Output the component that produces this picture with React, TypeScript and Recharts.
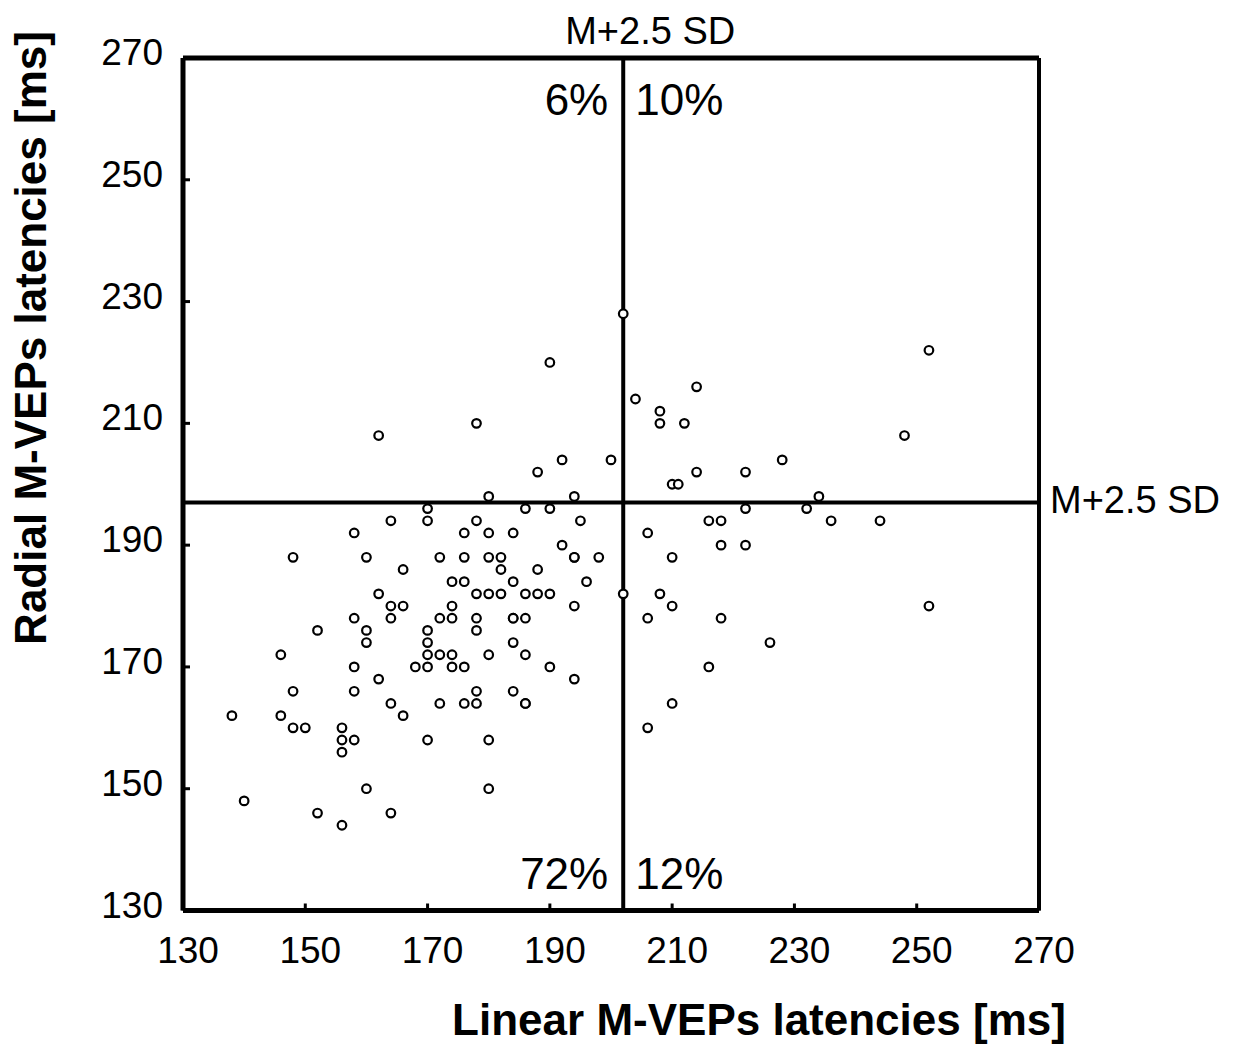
import React from "react";
import { ScatterChart, Scatter, XAxis, YAxis, ReferenceLine } from "recharts";

// Linear vs radial M-VEP latencies (ms), one entry per eye.
const LINEAR = [
  // upper left
  162, 178, 190, 192, 188, 200, 180, 194,
  // upper right
  202, 204, 208, 208, 212, 214, 214, 210, 211, 222, 228, 234, 248, 252,
  // lower right
  206, 216, 218, 222, 232, 236, 244, 218, 222, 210, 202, 208, 210, 252, 206, 218, 226, 216, 210, 206,
  // lower left
  164, 158, 148, 160, 166, 162, 164, 166, 158, 164, 152, 160, 160, 146, 158, 162, 148, 158, 164, 138,
  146, 166, 148, 150, 156, 156, 158, 156, 160, 140, 152, 164, 156,
  170, 170, 186, 190, 178, 195, 176, 180, 184, 192, 172, 176, 180, 182, 194, 194, 198, 182, 188, 174,
  176, 184, 196, 178, 180, 182, 186, 188, 190, 174, 194, 172, 174, 178, 184, 184, 186, 170, 178, 170,
  184, 170, 172, 174, 180, 186, 168, 170, 174, 176, 190, 194, 178, 184, 172, 176, 178, 186, 186, 170,
  180, 180,
];
const RADIAL = [
  208, 210, 220, 204, 202, 204, 198, 198,
  228, 214, 212, 210, 210, 216, 202, 200, 200, 202, 204, 198, 208, 222,
  192, 194, 194, 196, 196, 194, 194, 190, 190, 188, 182, 182, 180, 180, 178, 178, 174, 170, 164, 160,
  194, 192, 188, 188, 186, 182, 180, 180, 178, 178, 176, 176, 174, 172, 170, 168, 166, 166, 164, 162,
  162, 162, 160, 160, 160, 158, 158, 156, 150, 148, 146, 146, 144,
  196, 194, 196, 196, 194, 194, 192, 192, 192, 190, 188, 188, 188, 188, 188, 188, 188, 186, 186, 184,
  184, 184, 184, 182, 182, 182, 182, 182, 182, 180, 180, 178, 178, 178, 178, 178, 178, 176, 176, 174,
  174, 172, 172, 172, 172, 172, 170, 170, 170, 170, 170, 168, 166, 166, 164, 164, 164, 164, 164, 158,
  158, 150,
];

const TICKS = [130, 150, 170, 190, 210, 230, 250, 270];
const CUT_LINEAR = 202;
const CUT_RADIAL = 197;
const CUT_TEXT = "M+2.5 SD";
const PCT_UPPER_LEFT = "6%";
const PCT_UPPER_RIGHT = "10%";
const PCT_LOWER_LEFT = "72%";
const PCT_LOWER_RIGHT = "12%";
const X_TITLE = "Linear M-VEPs latencies [ms]";
const Y_TITLE = "Radial M-VEPs latencies [ms]";

const FONT = "'Liberation Sans', Arial, sans-serif";

const points = LINEAR.map((x, i) => ({ x, y: RADIAL[i] }));

const Ring = (p: any) => (
  <circle cx={p.cx} cy={p.cy} r={4.3} fill="#fff" stroke="#000" strokeWidth={2.2} />
);

// ticks point inward, labels sit outside
const XTick = (p: any) => {
  const axisY = p.y - 20;
  return (
    <g>
      <line x1={p.x} x2={p.x} y1={axisY} y2={axisY - 7} stroke="#000" strokeWidth={3} />
      <text x={p.x + 5} y={axisY + 52} textAnchor="middle" fontSize={37} fontFamily={FONT} fill="#000">
        {p.payload.value}
      </text>
    </g>
  );
};

const YTick = (p: any) => {
  const axisX = p.x + 20;
  return (
    <g>
      <line x1={axisX} x2={axisX + 7} y1={p.y} y2={p.y} stroke="#000" strokeWidth={3} />
      <text x={axisX - 20} y={p.y + 7} textAnchor="end" fontSize={37} fontFamily={FONT} fill="#000">
        {p.payload.value}
      </text>
    </g>
  );
};

const VCutLabel = ({ viewBox }: any) => {
  const { x, y, height } = viewBox;
  const t = { fontFamily: FONT, fill: "#000" };
  return (
    <g>
      <text x={x + 27} y={y - 14} textAnchor="middle" fontSize={38} {...t}>{CUT_TEXT}</text>
      <text x={x - 15} y={y + 57} textAnchor="end" fontSize={44} {...t}>{PCT_UPPER_LEFT}</text>
      <text x={x + 12} y={y + 57} textAnchor="start" fontSize={44} {...t}>{PCT_UPPER_RIGHT}</text>
      <text x={x - 15} y={y + height - 22} textAnchor="end" fontSize={44} {...t}>{PCT_LOWER_LEFT}</text>
      <text x={x + 12} y={y + height - 22} textAnchor="start" fontSize={44} {...t}>{PCT_LOWER_RIGHT}</text>
    </g>
  );
};

const HCutLabel = ({ viewBox }: any) => (
  <text x={viewBox.x + viewBox.width + 11} y={viewBox.y + 10} fontSize={38} fontFamily={FONT} fill="#000">
    {CUT_TEXT}
  </text>
);

const XTitle = ({ viewBox }: any) => (
  <text x={viewBox.x + 576} y={viewBox.y + 124} textAnchor="middle" fontSize={44} fontWeight="bold" fontFamily={FONT} fill="#000">
    {X_TITLE}
  </text>
);

const YTitle = ({ viewBox }: any) => (
  <text
    transform={`translate(${viewBox.x + 46}, 338) rotate(-90)`}
    textAnchor="middle"
    fontSize={44}
    fontWeight="bold"
    fontFamily={FONT}
    fill="#000"
  >
    {Y_TITLE}
  </text>
);

export default function App() {
  return (
    <div style={{ position: "absolute", left: 0, top: 0, width: 1238, height: 1048, background: "#fff" }}>
      <ScatterChart width={1238} height={1048} margin={{ top: 58, right: 199, bottom: 0, left: 0 }}>
        <XAxis
          type="number"
          dataKey="x"
          domain={[130, 270]}
          ticks={TICKS}
          interval={0}
          height={137.5}
          tickSize={0}
          tickMargin={20}
          tickLine={false}
          axisLine={{ stroke: "#000", strokeWidth: 5 }}
          tick={<XTick />}
          label={<XTitle />}
        />
        <YAxis
          type="number"
          dataKey="y"
          domain={[130, 270]}
          ticks={TICKS}
          interval={0}
          width={183}
          tickSize={0}
          tickMargin={20}
          tickLine={false}
          axisLine={{ stroke: "#000", strokeWidth: 5 }}
          tick={<YTick />}
          label={<YTitle />}
        />
        <ReferenceLine y={270} stroke="#000" strokeWidth={5} />
        <ReferenceLine x={270} stroke="#000" strokeWidth={4} />
        <ReferenceLine x={CUT_LINEAR} stroke="#000" strokeWidth={4} label={<VCutLabel />} />
        <ReferenceLine y={CUT_RADIAL} stroke="#000" strokeWidth={4} label={<HCutLabel />} />
        <Scatter data={points} shape={Ring} isAnimationActive={false} />
      </ScatterChart>
    </div>
  );
}
